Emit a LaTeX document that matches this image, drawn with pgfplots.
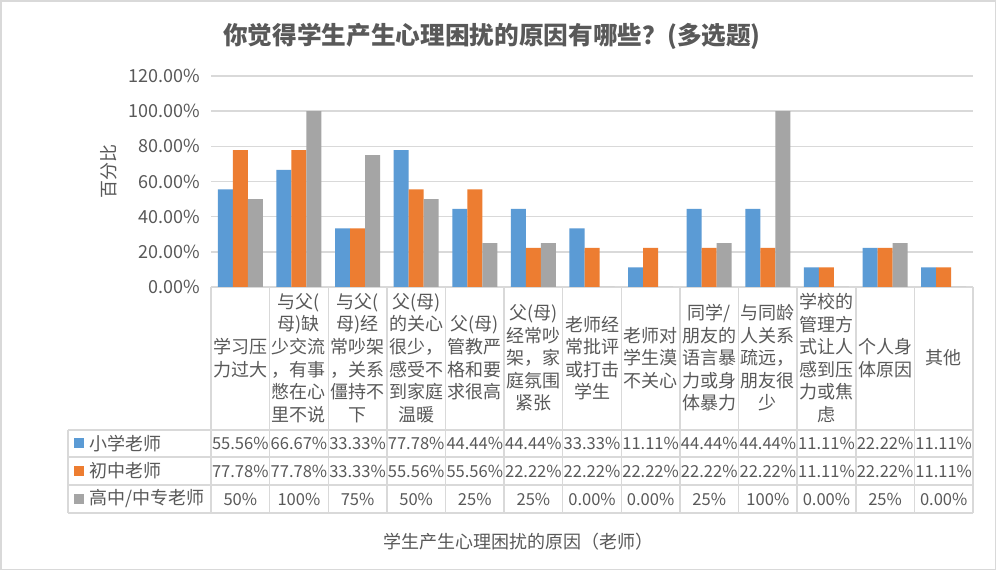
\documentclass[border=0pt]{standalone}
\usepackage{fontspec}
\setmainfont{Noto Sans CJK SC}
\usepackage{pgfplots}
\pgfplotsset{compat=1.18}

\definecolor{c1}{HTML}{5B9BD5}
\definecolor{c2}{HTML}{ED7D31}
\definecolor{c3}{HTML}{A5A5A5}
\definecolor{gridc}{HTML}{D9D9D9}
\definecolor{txt}{HTML}{595959}

\newcommand\tabfont{\fontsize{13.5}{16.9}\selectfont}
\newcommand\valfont{\fontsize{12.4}{15}\selectfont}
% column centre in px
\newcommand\cx[1]{211+(#1+0.5)*762/13}
\newcommand\hdr[2]{\node[align=center,font=\tabfont,text=txt,inner sep=0pt] at ({\cx{#1}},213) {#2};}

\begin{document}
\begin{tikzpicture}
\path[use as bounding box, fill=white] (0,0) rectangle (747.75pt,428.25pt);
\begin{scope}[x=0.75pt,y=0.75pt]
  \draw[gridc, line width=1pt] (1,1.5) rectangle (995.5,570);
  \coordinate (O) at (211,284);
\end{scope}

\begin{axis}[
    at={(O)}, anchor=south west,
    scale only axis,
    width=571.5pt, height=158.25pt,
    xmin=-0.5, xmax=12.5,
    ymin=0, ymax=120,
    ytick={0,20,...,120},
    xtick=\empty,
    ymajorgrids,
    grid style={gridc, line width=1.1pt},
    axis line style={draw=none},
    major tick style={draw=none},
    /pgf/number format/assume math mode=true,
    yticklabel={\pgfmathprintnumber[fixed,fixed zerofill,precision=2]{\tick}\%},
    yticklabel style={font=\tabfont, text=txt, xshift=-5pt},
    ybar, bar width=0.256,
    clip=false,
]
\addplot[fill=c1, draw=none, bar shift=-0.256] coordinates {
  (0,55.56) (1,66.67) (2,33.33) (3,77.78) (4,44.44) (5,44.44) (6,33.33)
  (7,11.11) (8,44.44) (9,44.44) (10,11.11) (11,22.22) (12,11.11)};
\addplot[fill=c2, draw=none, bar shift=0] coordinates {
  (0,77.78) (1,77.78) (2,33.33) (3,55.56) (4,55.56) (5,22.22) (6,22.22)
  (7,22.22) (8,22.22) (9,22.22) (10,11.11) (11,22.22) (12,11.11)};
\addplot[fill=c3, draw=none, bar shift=0.256] coordinates {
  (0,50) (1,100) (2,75) (3,50) (4,25) (5,25) (6,0)
  (7,0) (8,25) (9,100) (10,0) (11,25) (12,0)};
\end{axis}

\begin{scope}[x=0.75pt,y=0.75pt]
  % title and axis titles
  \node[font=\fontsize{18.5}{22}\selectfont\bfseries, text=txt] at (492,535)
    {你觉得学生产生心理困扰的原因有哪些？(多选题)};
  \node[font=\tabfont, text=txt, rotate=90] at (109,399) {百分比};
  \node[font=\tabfont, text=txt] at (518,29) {学生产生心理困扰的原因（老师）};

  % data table grid
  \begin{scope}[gridc, line width=1.1pt]
    \foreach \y in {141,114,86,58} \draw (68,\y) -- (973,\y);
    \draw (68,58) -- (68,141);
    \foreach \k in {0,...,13} \draw ({211+\k*762/13},58) -- ({211+\k*762/13},284);
  \end{scope}

  % header labels
  \hdr{0}{学习压\\力过大}
  \hdr{1}{与父(\\母)缺\\少交流\\，有事\\憋在心\\里不说}
  \hdr{2}{与父(\\母)经\\常吵架\\，关系\\僵持不\\下}
  \hdr{3}{父(母)\\的关心\\很少，\\感受不\\到家庭\\温暖}
  \hdr{4}{父(母)\\管教严\\格和要\\求很高}
  \hdr{5}{父(母)\\经常吵\\架，家\\庭氛围\\紧张}
  \hdr{6}{老师经\\常批评\\或打击\\学生}
  \hdr{7}{老师对\\学生漠\\不关心}
  \hdr{8}{同学/\\朋友的\\语言暴\\力或身\\体暴力}
  \hdr{9}{与同龄\\人关系\\疏远，\\朋友很\\少}
  \hdr{10}{学校的\\管理方\\式让人\\感到压\\力或焦\\虑}
  \hdr{11}{个人身\\体原因}
  \hdr{12}{其他}

  % legend keys
  \fill[c1] (74,122.5) rectangle (84,132.5);
  \fill[c2] (74,95) rectangle (84,105);
  \fill[c3] (74,67) rectangle (84,77);
  \node[font=\tabfont, text=txt, anchor=west, inner sep=0pt] at (89,127.5) {小学老师};
  \node[font=\tabfont, text=txt, anchor=west, inner sep=0pt] at (89,100) {初中老师};
  \node[font=\tabfont, text=txt, anchor=west, inner sep=0pt] at (89,72) {高中/中专老师};

  % table values
  \foreach \v [count=\i from 0] in {55.56\%,66.67\%,33.33\%,77.78\%,44.44\%,44.44\%,33.33\%,11.11\%,44.44\%,44.44\%,11.11\%,22.22\%,11.11\%}
    \node[font=\valfont, text=txt, inner sep=0pt] at ({\cx{\i}},127.5) {\v};
  \foreach \v [count=\i from 0] in {77.78\%,77.78\%,33.33\%,55.56\%,55.56\%,22.22\%,22.22\%,22.22\%,22.22\%,22.22\%,11.11\%,22.22\%,11.11\%}
    \node[font=\valfont, text=txt, inner sep=0pt] at ({\cx{\i}},100) {\v};
  \foreach \v [count=\i from 0] in {50\%,100\%,75\%,50\%,25\%,25\%,0.00\%,0.00\%,25\%,100\%,0.00\%,25\%,0.00\%}
    \node[font=\valfont, text=txt, inner sep=0pt] at ({\cx{\i}},72) {\v};
\end{scope}
\end{tikzpicture}
\end{document}
